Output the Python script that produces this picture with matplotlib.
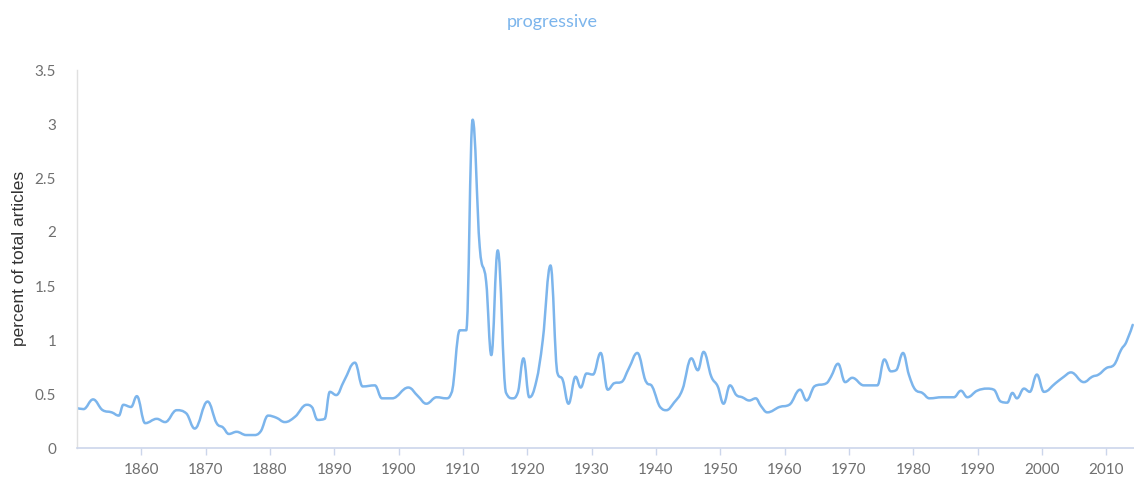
# -*- coding: utf-8 -*-

import numpy as np
from matplotlib import pyplot as plt
from matplotlib.path import Path
from matplotlib.patches import PathPatch
from matplotlib.ticker import FuncFormatter

# values (year, percent of total articles)
years = [1850.0, 1851.0, 1852.5, 1854.0, 1855.4, 1856.5, 1857.2, 1858.4, 1859.3, 1860.6,
         1862.4, 1863.7, 1865.5, 1867.0, 1868.3, 1870.3, 1871.7, 1872.7, 1873.6, 1874.8,
         1876.3, 1877.5, 1878.5, 1879.7, 1881.0, 1882.3, 1883.9, 1885.7, 1886.5, 1887.4,
         1888.5, 1889.3, 1890.3, 1891.5, 1893.2, 1894.4, 1896.3, 1897.4, 1899.0, 1901.5,
         1903.0, 1904.3, 1905.9, 1907.4, 1908.2, 1909.5, 1910.5, 1911.5, 1912.6, 1913.6,
         1914.4, 1915.4, 1916.7, 1917.7, 1918.5, 1919.4, 1920.3, 1921.4, 1922.4, 1923.6,
         1924.7, 1925.5, 1926.4, 1927.5, 1928.3, 1929.2, 1930.2, 1931.4, 1932.5, 1933.5,
         1934.6, 1935.8, 1937.1, 1938.5, 1939.4, 1940.8, 1941.6, 1942.8, 1944.1, 1945.5,
         1946.5, 1947.4, 1948.6, 1949.6, 1950.5, 1951.5, 1952.5, 1953.4, 1954.5, 1955.5,
         1956.3, 1957.3, 1959.2, 1960.7, 1962.4, 1963.4, 1964.6, 1966.5, 1967.2, 1968.3,
         1969.4, 1970.5, 1972.3, 1974.4, 1975.5, 1976.5, 1977.3, 1978.4, 1979.3, 1980.3,
         1981.4, 1982.5, 1984.5, 1986.3, 1987.4, 1988.4, 1989.9, 1991.5, 1992.5, 1993.6,
         1994.6, 1995.4, 1996.1, 1997.2, 1998.1, 1999.2, 2000.3, 2002.1, 2003.4, 2004.5,
         2006.5, 2007.8, 2008.8, 2010.0, 2011.2, 2012.3, 2013.1, 2014.1]
values = [0.37, 0.36, 0.45, 0.35, 0.33, 0.30, 0.40, 0.38, 0.48, 0.23,
          0.27, 0.24, 0.35, 0.32, 0.18, 0.43, 0.23, 0.19, 0.13, 0.15,
          0.12, 0.12, 0.15, 0.30, 0.28, 0.24, 0.29, 0.40, 0.38, 0.26,
          0.27, 0.52, 0.49, 0.62, 0.79, 0.57, 0.58, 0.46, 0.46, 0.56,
          0.48, 0.41, 0.47, 0.46, 0.51, 1.09, 1.09, 3.04, 1.86, 1.54,
          0.86, 1.83, 0.51, 0.46, 0.51, 0.83, 0.47, 0.62, 1.00, 1.69,
          0.69, 0.63, 0.41, 0.66, 0.56, 0.69, 0.68, 0.88, 0.54, 0.60,
          0.61, 0.74, 0.88, 0.61, 0.57, 0.37, 0.35, 0.42, 0.54, 0.83,
          0.72, 0.89, 0.66, 0.57, 0.41, 0.58, 0.49, 0.47, 0.44, 0.46,
          0.39, 0.33, 0.38, 0.40, 0.54, 0.44, 0.57, 0.60, 0.66, 0.78,
          0.61, 0.65, 0.58, 0.58, 0.82, 0.71, 0.72, 0.88, 0.68, 0.54,
          0.51, 0.46, 0.47, 0.47, 0.53, 0.47, 0.53, 0.55, 0.54, 0.43,
          0.42, 0.51, 0.46, 0.55, 0.52, 0.68, 0.52, 0.60, 0.66, 0.70,
          0.61, 0.66, 0.68, 0.74, 0.77, 0.91, 0.98, 1.14]

x_ticks = [1860, 1870, 1880, 1890, 1900, 1910, 1920, 1930, 1940, 1950,
           1960, 1970, 1980, 1990, 2000, 2010]
y_ticks = [0, 0.5, 1, 1.5, 2, 2.5, 3, 3.5]


def spline_path(xs, ys, smoothing=1.5):
    # smooth bezier line through the points (same idea as a charting "spline" series)
    xs = np.asarray(xs, float); ys = np.asarray(ys, float)
    n = len(xs); denom = smoothing + 1
    lc = np.zeros((n, 2)); rc = np.zeros((n, 2))
    for i in range(n):
        px, py = xs[i], ys[i]
        if i == 0 or i == n - 1:
            lc[i] = rc[i] = (px, py)
            continue
        lx = (smoothing * px + xs[i-1]) / denom; ly = (smoothing * py + ys[i-1]) / denom
        rx = (smoothing * px + xs[i+1]) / denom; ry = (smoothing * py + ys[i+1]) / denom
        corr = (ry - ly) * (rx - px) / (rx - lx) + py - ry
        ly += corr; ry += corr
        # keep control points from overshooting local extremes
        if ly > ys[i-1] and ly > py:
            ly = max(ys[i-1], py); ry = 2 * py - ly
        elif ly < ys[i-1] and ly < py:
            ly = min(ys[i-1], py); ry = 2 * py - ly
        if ry > ys[i+1] and ry > py:
            ry = max(ys[i+1], py); ly = 2 * py - ry
        elif ry < ys[i+1] and ry < py:
            ry = min(ys[i+1], py); ly = 2 * py - ry
        lc[i] = (lx, ly); rc[i] = (rx, ry)
    verts = [(xs[0], ys[0])]; codes = [Path.MOVETO]
    for i in range(1, n):
        verts += [tuple(rc[i-1]), tuple(lc[i]), (xs[i], ys[i])]
        codes += [Path.CURVE4] * 3
    return Path(verts, codes)


plt.rcParams['font.family'] = ['Lato', 'DejaVu Sans']

fig = plt.figure(figsize=(11.34, 4.79), dpi=100)
ax = fig.add_axes([77 / 1134, 1 - 448 / 479, 1 - 77 / 1134, (448 - 70) / 479])

ax.add_patch(PathPatch(spline_path(years, values), fill=False, edgecolor='#7cb5ec',
                       linewidth=1.8, joinstyle='round', capstyle='round'))

ax.set_xlim(1850, 2014.3)
ax.set_ylim(0, 3.5)
ax.set_xticks(x_ticks)
ax.set_yticks(y_ticks)
ax.yaxis.set_major_formatter(FuncFormatter(lambda v, p: '%g' % v))

for s in ['top', 'right']:
    ax.spines[s].set_visible(False)
ax.spines['bottom'].set_color('#ccd6eb')
ax.spines['left'].set_color('#e0e0e0')
ax.spines['bottom'].set_linewidth(1.2)
ax.spines['left'].set_linewidth(1.0)

ax.tick_params(axis='x', colors='#ccd6eb', length=5, width=1, pad=6,
               labelcolor='#707070', labelsize=11)
ax.tick_params(axis='y', length=0, pad=15, labelcolor='#707070', labelsize=11)

fig.text(552 / 1134, 1 - 22 / 479, 'progressive', color='#7cb5ec',
         fontsize=13, ha='center', va='center')
fig.text(20 / 1134, 1 - 258 / 479, 'percent of total articles', color='#333333',
         fontsize=12.5, rotation=90, ha='center', va='center',
         family=['Liberation Sans', 'DejaVu Sans'])

fig.savefig('out.png', dpi=100)
